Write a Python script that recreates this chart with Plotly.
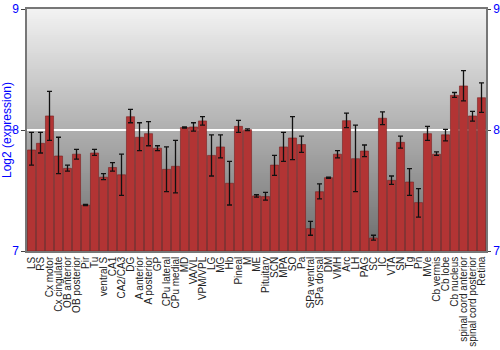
import plotly.graph_objects as go

categories = ["LS", "RS", "Cx motor", "Cx cingulate", "OB anterior", "OB posterior", "Pir", "Tu",
              "ventral S", "CA1", "CA2/CA3", "DG", "A anterior", "A posterior", "GP", "CPu lateral",
              "CPu medial", "MD", "VA/VL", "VPM/VPL", "LG", "MG", "Hb", "Pineal", "M", "ME",
              "Pituitary", "SCN", "MPA", "SO", "Pa", "SPa ventral", "SPa dorsal", "DM", "VMH", "Arc",
              "LH", "PAG", "SC", "IC", "VTA", "SN", "Tg", "Pn", "MVe", "Cb vermis", "Cb lobe",
              "Cb nucleus", "spinal cord anterior", "spinal cord posterior", "Retina"]

values = [7.835, 7.89, 8.116, 7.785, 7.683, 7.80, 7.38, 7.81,
          7.61, 7.69, 7.63, 8.11, 7.94, 7.97, 7.85, 7.675,
          7.70, 8.02, 8.025, 8.075, 7.79, 7.86, 7.56, 8.03, 8.003, 7.455,
          7.45, 7.71, 7.86, 7.934, 7.88, 7.185, 7.49, 7.606, 7.80, 8.077,
          7.763, 7.826, 7.107, 8.097, 7.584, 7.898, 7.57, 7.40, 7.97, 7.80, 7.96,
          8.287, 8.364, 8.116, 8.267]

upper = [7.98, 7.98, 8.32, 7.94, 7.71, 7.84, 7.385, 7.84,
         7.64, 7.73, 7.80, 8.17, 8.06, 8.07, 7.87, 7.86,
         7.915, 8.025, 8.06, 8.11, 7.96, 7.96, 7.74, 8.08, 8.01, 7.465,
         7.485, 7.79, 7.98, 8.11, 7.95, 7.245, 7.555, 7.61, 7.83, 8.14,
         8.04, 7.876, 7.13, 8.149, 7.62, 7.95, 7.68, 7.515, 8.03, 7.82, 8.005,
         8.31, 8.49, 8.154, 8.39]

lower = [7.71, 7.81, 7.915, 7.64, 7.66, 7.76, 7.375, 7.79,
         7.59, 7.66, 7.46, 8.06, 7.83, 7.87, 7.83, 7.49,
         7.48, 8.015, 7.99, 8.04, 7.62, 7.77, 7.38, 7.98, 7.995, 7.445,
         7.42, 7.625, 7.74, 7.755, 7.815, 7.13, 7.43, 7.60, 7.77, 8.02,
         7.49, 7.78, 7.09, 8.044, 7.55, 7.85, 7.46, 7.28, 7.915, 7.79, 7.91,
         8.27, 8.24, 8.074, 8.146]

y_ticks = [7, 8, 9]
y_title = "Log2 (expression)"

err_plus = [u - v for u, v in zip(upper, values)]
err_minus = [v - l for v, l in zip(values, lower)]

fig = go.Figure()
fig.add_trace(go.Bar(
    x=categories, y=[v - 7 for v in values], base=7,
    marker=dict(color="#b23434", line=dict(color="#7a2020", width=0.6)),
    error_y=dict(type="data", symmetric=False, array=err_plus, arrayminus=err_minus,
                 color="#111111", thickness=1.3, width=2.5),
    hoverinfo="x+y",
))
fig.add_trace(go.Scatter(x=[categories[0]], y=[7], yaxis="y2", mode="lines",
                         line=dict(width=0), showlegend=False, hoverinfo="skip"))

# background vertical gradient
n = 121
shapes = []
top, bot = 242, 108
for i in range(n):
    f = i / (n - 1)
    c = int(round(top + (bot - top) * f))
    shapes.append(dict(type="rect", xref="paper", yref="paper", x0=0, x1=1,
                       y0=1 - (i + 1) / n - 0.004, y1=1 - i / n,
                       fillcolor=f"rgb({c},{c},{c})", line=dict(width=0), layer="below"))

fig.update_layout(
    width=500, height=350,
    margin=dict(l=27, r=14, t=9, b=99),
    paper_bgcolor="white", plot_bgcolor="rgba(0,0,0,0)",
    shapes=shapes,
    bargap=0.1,
    showlegend=False,
    font=dict(family="Liberation Sans, Arial, sans-serif"),
    xaxis=dict(tickangle=-90, tickfont=dict(size=10, color="#222222"),
               tickmode="linear", dtick=1, range=[-0.5, len(categories) - 0.5],
               showline=True, linecolor="#777777", linewidth=1.5, mirror=True,
               ticks="", showgrid=False, automargin=False),
    yaxis=dict(range=[7, 9], tickvals=y_ticks, ticks="outside", ticklen=4, tickcolor="#444444",
               tickfont=dict(size=12, color="#0000ff"),
               title=dict(text=y_title, font=dict(size=12, color="#0000ff"), standoff=2),
               showline=True, linecolor="#777777", linewidth=1.5,
               showgrid=True, gridcolor="white", gridwidth=1.5, zeroline=False, automargin=False),
    yaxis2=dict(range=[7, 9], tickvals=y_ticks, overlaying="y", side="right",
                ticks="outside", ticklen=3, tickcolor="#444444",
                tickfont=dict(size=12, color="#0000ff"),
                showline=True, linecolor="#777777", linewidth=1.5, showgrid=False,
                zeroline=False, automargin=False),
)

fig.write_html("out.html")
